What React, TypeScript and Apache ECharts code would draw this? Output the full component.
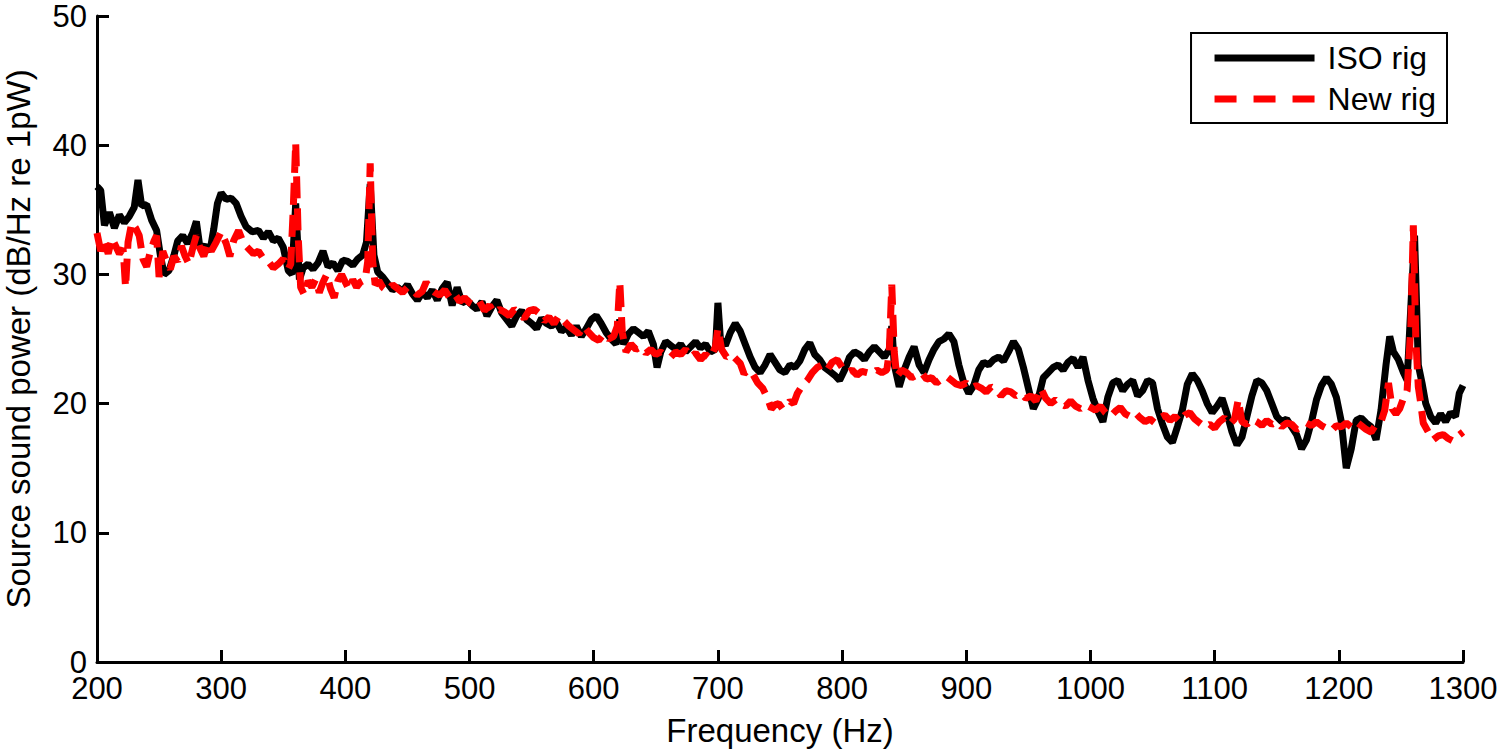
import React, { useEffect, useRef } from "react";
import * as echarts from "echarts";

const xTicks = [200, 300, 400, 500, 600, 700, 800, 900, 1000, 1100, 1200, 1300];
const yTicks = [0, 10, 20, 30, 40, 50];

const isoFreq = [
  200, 203, 206, 210, 214, 218, 222, 226, 230, 233, 236, 240, 244, 248, 251, 254, 258, 262, 265, 269,
  273, 277, 280, 283, 287, 291, 294, 297, 300, 304, 308, 312, 316, 320, 325, 330, 334, 338, 342, 346,
  350, 354, 357, 360, 363, 366, 370, 374, 378, 382, 386, 390, 394, 398, 402, 406, 410, 414, 417, 420,
  423, 426, 430, 434, 438, 442, 446, 450, 454, 458, 462, 466, 470, 474, 478, 482, 486, 490, 494, 498,
  502, 506, 510, 514, 518, 522, 526, 530, 534, 538, 542, 546, 550, 554, 558, 562, 566, 570, 574, 578,
  582, 586, 590, 594, 598, 602, 606, 610, 614, 618, 621, 624, 628, 632, 636, 640, 644, 648, 651, 654,
  658, 662, 666, 670, 674, 678, 682, 686, 690, 694, 698, 700, 702, 706, 710, 714, 718, 722, 726, 730,
  734, 738, 742, 746, 750, 754, 758, 762, 766, 770, 774, 778, 782, 786, 790, 794, 798, 802, 806, 810,
  814, 818, 822, 826, 830, 834, 838, 840, 842, 846, 850, 854, 858, 862, 866, 870, 874, 878, 882, 886,
  890, 894, 898, 902, 906, 910, 914, 918, 922, 926, 930, 934, 938, 942, 946, 950, 954, 958, 962, 966,
  970, 974, 978, 982, 986, 990, 994, 998, 1002, 1006, 1010, 1014, 1018, 1022, 1026, 1030, 1034, 1038, 1042, 1046,
  1050, 1054, 1058, 1062, 1066, 1070, 1074, 1078, 1082, 1086, 1090, 1094, 1098, 1102, 1106, 1110, 1114, 1118, 1122, 1126,
  1130, 1134, 1138, 1142, 1146, 1150, 1154, 1158, 1162, 1166, 1170, 1174, 1178, 1182, 1186, 1190, 1194, 1198, 1202, 1206,
  1210, 1214, 1218, 1222, 1226, 1230, 1234, 1238, 1241, 1244, 1248, 1252, 1255, 1258, 1261, 1264, 1267, 1270, 1274, 1278,
  1282, 1286, 1290, 1294, 1297, 1300,
];
const isoDb = [
  36.8, 36.5, 33.8, 34.8, 33.6, 34.6, 34.0, 34.5, 35.2, 37.3, 35.3, 35.4, 34.2, 33.4, 31.5, 30.0, 30.3, 31.5, 32.6, 33.0,
  32.4, 33.2, 34.1, 32.0, 32.2, 31.8, 33.5, 35.5, 36.3, 35.8, 35.9, 35.5, 34.5, 33.7, 33.3, 33.4, 32.8, 33.3, 32.6, 32.8,
  32.1, 30.3, 30.0, 35.5, 29.6, 30.5, 30.8, 30.4, 30.9, 31.8, 30.6, 30.9, 30.3, 31.1, 31.0, 30.7, 31.2, 31.5, 32.5, 37.0,
  31.5, 30.2, 29.8, 29.3, 28.8, 29.0, 28.7, 29.2, 28.5, 28.0, 28.6, 28.2, 28.8, 28.0, 28.9, 29.4, 27.6, 29.0, 27.8, 28.0,
  27.6, 27.3, 27.9, 26.8, 27.5, 28.0, 27.0, 26.5, 26.0, 26.8, 27.2, 26.5, 26.2, 25.8, 26.6, 26.2, 26.0, 26.3, 25.6, 25.9,
  25.3, 26.0, 25.2, 25.8, 26.5, 26.8, 26.2, 25.5, 25.0, 24.6, 26.5, 24.6, 25.4, 25.8, 25.5, 25.2, 25.6, 24.6, 22.8, 24.0,
  24.8, 24.5, 24.2, 24.6, 24.0, 24.4, 24.8, 24.3, 24.6, 24.0, 24.2, 27.8, 25.0, 24.5, 25.5, 26.2, 25.6, 24.6, 23.6, 22.8,
  22.4, 23.0, 23.8, 23.2, 22.6, 22.4, 23.0, 22.8, 23.3, 24.2, 24.7, 23.8, 23.4, 22.8, 22.5, 22.2, 21.8, 22.6, 23.6, 24.0,
  23.8, 23.4, 24.0, 24.4, 24.0, 23.6, 24.2, 26.0, 23.0, 21.3, 22.6, 23.6, 24.4, 23.0, 22.4, 23.4, 24.2, 24.8, 25.0, 25.4,
  24.8, 23.0, 21.6, 20.8, 21.4, 22.6, 23.2, 23.0, 23.4, 23.6, 23.3, 24.0, 24.8, 24.2, 22.8, 21.2, 19.6, 20.4, 22.0, 22.4,
  22.8, 23.0, 22.6, 23.2, 23.5, 22.8, 23.6, 21.8, 20.4, 19.4, 18.6, 20.5, 21.6, 21.8, 21.0, 21.5, 21.8, 20.6, 21.0, 21.8,
  21.6, 19.6, 18.4, 17.4, 17.0, 18.2, 19.5, 21.5, 22.3, 21.8, 21.0, 20.0, 19.3, 19.8, 20.4, 19.2, 17.8, 16.8, 17.4, 19.0,
  20.6, 21.8, 21.6, 21.0, 20.0, 19.0, 18.6, 18.8, 18.2, 17.6, 16.5, 17.2, 18.6, 20.3, 21.4, 22.0, 21.5, 20.5, 18.6, 15.0,
  16.5, 18.7, 18.9, 18.5, 18.2, 17.2, 19.5, 23.0, 25.2, 24.0, 23.4, 22.4, 21.8, 27.5, 33.0, 23.0, 21.6, 20.0, 19.0, 18.5,
  19.2, 18.6, 19.3, 19.0, 20.8, 21.4,
];

const newFreq = [
  200, 203, 206, 209, 212, 215, 218, 221, 223, 225, 228, 231, 234, 237, 240, 243, 246, 248, 250, 253,
  256, 259, 262, 265, 268, 271, 274, 277, 280, 283, 286, 289, 292, 296, 300, 304, 307, 310, 314, 318,
  322, 326, 330, 334, 338, 342, 346, 350, 354, 356, 358, 360, 362, 364, 367, 370, 373, 376, 379, 382,
  385, 388, 391, 394, 397, 400, 403, 406, 409, 412, 416, 418, 420, 422, 424, 427, 430, 434, 438, 442,
  446, 450, 454, 458, 462, 465, 468, 472, 476, 480, 484, 488, 492, 496, 500, 504, 508, 512, 516, 520,
  524, 528, 532, 536, 540, 544, 548, 552, 556, 560, 564, 568, 572, 576, 580, 584, 588, 592, 596, 600,
  604, 608, 612, 616, 619, 621, 623, 626, 630, 634, 638, 642, 646, 650, 654, 658, 662, 666, 670, 674,
  678, 682, 686, 690, 694, 698, 700, 703, 707, 711, 715, 718, 721, 724, 728, 732, 736, 740, 743, 746,
  749, 752, 755, 758, 761, 764, 768, 772, 776, 780, 784, 788, 792, 796, 800, 804, 808, 812, 816, 820,
  824, 828, 832, 836, 838, 840, 842, 844, 848, 852, 856, 860, 864, 868, 872, 876, 880, 884, 888, 892,
  896, 900, 904, 908, 912, 916, 920, 924, 928, 932, 936, 940, 944, 948, 952, 956, 960, 964, 968, 972,
  976, 980, 984, 988, 992, 996, 1000, 1004, 1008, 1012, 1016, 1020, 1024, 1028, 1032, 1036, 1040, 1044, 1048, 1052,
  1056, 1060, 1064, 1068, 1072, 1076, 1080, 1084, 1088, 1092, 1096, 1100, 1104, 1108, 1112, 1116, 1119, 1122, 1126, 1130,
  1134, 1138, 1142, 1146, 1150, 1154, 1158, 1162, 1166, 1170, 1174, 1178, 1182, 1186, 1190, 1194, 1198, 1202, 1206, 1210,
  1214, 1218, 1222, 1226, 1230, 1234, 1237, 1240, 1243, 1246, 1249, 1252, 1255, 1258, 1260, 1262, 1264, 1266, 1268, 1272,
  1276, 1280, 1284, 1288, 1292, 1296, 1300,
];
const newDb = [
  33.2, 31.8, 32.6, 31.6, 32.8, 32.2, 31.6, 32.0, 29.0, 32.5, 34.0, 33.6, 33.0, 31.2, 30.6, 31.8, 32.6, 33.0, 29.8, 31.8,
  31.0, 30.4, 31.4, 31.0, 32.2, 31.4, 30.8, 32.0, 33.0, 32.0, 31.4, 32.4, 31.8, 32.5, 33.3, 32.4, 31.4, 32.6, 33.4, 32.4,
  32.0, 31.6, 31.8, 31.2, 31.0, 30.5, 30.8, 31.2, 30.4, 30.8, 35.0, 40.2, 33.0, 29.0, 28.4, 29.5, 29.0, 29.6, 28.6, 29.4,
  30.0, 28.9, 28.2, 29.5, 30.0, 29.4, 28.8, 29.6, 29.0, 29.4, 29.6, 31.0, 38.6, 31.0, 29.2, 29.5, 29.0, 28.7, 29.2, 28.9,
  28.6, 29.0, 28.8, 28.4, 28.7, 29.4, 28.9, 28.6, 28.4, 28.8, 28.2, 28.5, 27.9, 28.2, 27.8, 27.6, 27.9, 27.2, 27.6, 27.0,
  27.3, 27.1, 26.8, 27.3, 27.0, 26.6, 27.2, 27.3, 27.0, 26.4, 26.7, 26.2, 26.8, 26.4, 26.0, 25.7, 25.4, 26.0, 25.5, 25.1,
  24.9, 25.4, 25.0, 25.2, 26.0, 29.4, 25.5, 24.0, 24.6, 24.2, 24.4, 23.9, 24.2, 23.8, 24.0, 23.7, 23.6, 24.0, 23.8, 24.2,
  23.6, 23.9, 23.4, 23.8, 23.5, 24.4, 25.8, 24.2, 23.6, 23.8, 23.4, 23.1, 22.3, 22.6, 22.3, 21.6, 21.2, 20.4, 19.6, 19.9,
  20.0, 19.6, 19.8, 20.2, 20.0, 20.8, 21.4, 21.8, 22.4, 22.8, 23.0, 22.6, 23.2, 23.4, 22.8, 22.4, 22.6, 22.2, 22.5, 22.4,
  22.3, 22.6, 22.4, 22.6, 24.0, 29.2, 24.0, 22.1, 22.6, 22.4, 22.0, 22.2, 22.4, 21.9, 22.0, 21.6, 21.9, 22.1, 21.8, 21.5,
  21.4, 21.6, 21.2, 21.4, 21.2, 20.9, 21.3, 21.1, 20.6, 21.0, 20.9, 20.6, 20.8, 20.4, 20.6, 20.2, 21.2, 20.4, 20.0, 20.3,
  20.0, 19.8, 20.2, 19.8, 19.6, 19.9, 19.7, 19.5, 19.8, 19.3, 19.0, 19.4, 19.7, 19.2, 19.0, 19.3, 18.9, 18.6, 18.8, 18.5,
  18.9, 19.1, 18.7, 19.0, 18.6, 19.1, 19.3, 18.8, 18.5, 18.2, 18.4, 18.1, 18.6, 18.9, 18.4, 18.8, 20.3, 18.6, 18.4, 18.8,
  18.6, 18.3, 18.7, 18.4, 18.6, 18.2, 18.5, 18.4, 18.0, 18.2, 18.5, 18.3, 18.6, 18.3, 18.1, 17.9, 18.3, 18.2, 18.5, 18.2,
  18.6, 18.3, 18.0, 17.8, 18.4, 18.6, 19.5, 21.6, 19.6, 19.2, 19.6, 20.4, 21.0, 26.0, 33.8, 25.0, 21.3, 20.0, 18.5, 17.8,
  17.2, 17.5, 17.6, 17.3, 17.1, 17.5, 17.8,
];

const FONT = "'Liberation Sans', Arial, Helvetica, sans-serif";

export default function App() {
  const ref = useRef<HTMLDivElement>(null);

  useEffect(() => {
    if (!ref.current) return;
    const chart = echarts.init(ref.current, null, { renderer: "svg" });
    const isoData = isoFreq.map((f, i) => [f, isoDb[i]]);
    const newData = newFreq.map((f, i) => [f, newDb[i]]);
    const hidden = { color: "rgba(0,0,0,0)", borderWidth: 0, borderColor: "rgba(0,0,0,0)" };
    chart.setOption({
      animation: false,
      backgroundColor: "#ffffff",
      textStyle: { fontFamily: FONT },
      grid: { left: 97, right: 37, top: 16, bottom: 88, containLabel: false, outerBoundsMode: "none" },
      legend: {
        right: 53,
        top: 33,
        orient: "vertical",
        align: "left",
        backgroundColor: "#ffffff",
        borderColor: "#000000",
        borderWidth: 2,
        borderRadius: 0,
        padding: [7, 11, 6, 20],
        itemWidth: 100,
        itemHeight: 14,
        itemGap: 5,
        textStyle: { fontSize: 32, color: "#000000", fontFamily: FONT, lineHeight: 36, padding: [0, 0, 0, 8] },
        data: [
          { name: "ISO rig", itemStyle: hidden, lineStyle: { width: 7, color: "#000000", type: "solid" } },
          { name: "New rig", itemStyle: hidden, lineStyle: { width: 7, color: "#ff0000", type: [22, 17] } },
        ],
      },
      xAxis: {
        type: "value",
        min: 200,
        max: 1300,
        interval: 100,
        name: "Frequency (Hz)",
        nameLocation: "middle",
        nameGap: 52,
        nameTextStyle: { fontSize: 33, color: "#000000", fontFamily: FONT },
        axisLine: { show: true, onZero: false, lineStyle: { color: "#000000", width: 3 } },
        axisTick: { show: true, inside: true, length: 12, lineStyle: { color: "#000000", width: 3 } },
        axisLabel: {
          fontSize: 31,
          color: "#000000",
          fontFamily: FONT,
          margin: 11,
          formatter: (v: number) => (xTicks.includes(v) ? String(v) : ""),
        },
        splitLine: { show: false },
      },
      yAxis: {
        type: "value",
        min: 0,
        max: 50,
        interval: 10,
        name: "Source sound power (dB/Hz re 1pW)",
        nameLocation: "middle",
        nameGap: 62,
        nameTextStyle: { fontSize: 33, color: "#000000", fontFamily: FONT },
        axisLine: { show: true, lineStyle: { color: "#000000", width: 3 } },
        axisTick: { show: true, inside: true, length: 12, lineStyle: { color: "#000000", width: 3 } },
        axisLabel: {
          fontSize: 31,
          color: "#000000",
          fontFamily: FONT,
          margin: 10,
          formatter: (v: number) => (yTicks.includes(v) ? String(v) : ""),
        },
        splitLine: { show: false },
      },
      series: [
        {
          name: "ISO rig",
          type: "line",
          data: isoData,
          symbol: "none",
          showSymbol: false,
          lineStyle: { color: "#000000", width: 7 },
          itemStyle: { color: "#000000" },
          z: 2,
        },
        {
          name: "New rig",
          type: "line",
          data: newData,
          symbol: "none",
          showSymbol: false,
          lineStyle: { color: "#ff0000", width: 7, type: [22, 10] },
          itemStyle: { color: "#ff0000" },
          z: 3,
        },
      ],
    });
    return () => chart.dispose();
  }, []);

  return <div ref={ref} style={{ width: 1500, height: 750, position: "absolute", left: 0, top: 0 }} />;
}
